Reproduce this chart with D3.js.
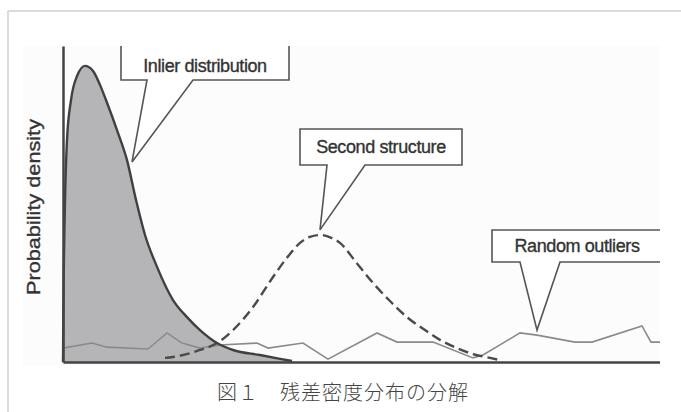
<!DOCTYPE html>
<html><head><meta charset="utf-8">
<script src="https://cdn.jsdelivr.net/npm/d3@7"></script>
<style>html,body{margin:0;padding:0;background:#fff;}svg{display:block;}</style>
</head><body>
<script>
// ---- data ----
const inlierX  = [0,0.008,0.034,0.067,0.134,0.235,0.369,0.503,0.620,0.720,0.921,1.072,1.223,1.374,1.575,1.843,2.077,2.295,2.580,2.848,3.300,3.836];
const inlierY  = [0,0.196,0.513,0.703,0.829,0.905,0.937,0.921,0.877,0.829,0.725,0.639,0.513,0.402,0.301,0.196,0.142,0.101,0.060,0.038,0.022,0.003];
const secondX  = [1.709,1.843,2.295,2.580,2.848,3.183,3.518,3.802,3.970,4.137,4.322,4.506,4.640,4.908,5.193,5.477,5.762,6.064,6.315,6.600,6.868,7.152,7.320];
const secondY  = [0.013,0.016,0.038,0.060,0.101,0.174,0.269,0.342,0.377,0.396,0.402,0.392,0.377,0.316,0.250,0.193,0.142,0.101,0.070,0.044,0.025,0.013,0.006];
const outlierX = [0,0.486,0.737,1.424,1.742,1.993,2.295,2.630,3.250,3.434,4.020,4.439,5.260,5.595,6.198,6.868,7.035,7.655,7.940,8.576,8.861,9.698,9.849,10];
const outlierY = [0.044,0.060,0.047,0.041,0.092,0.060,0.044,0.054,0.060,0.044,0.060,0.009,0.092,0.063,0.063,0.013,0.022,0.092,0.085,0.063,0.063,0.114,0.063,0.063];
const labels   = ["Inlier distribution","Second structure","Random outliers"];
const tipX     = [1.156,4.305,7.940];
const tipY     = [0.633,0.418,0.101];
const yTitle   = "Probability density";
const caption  = "図１　残差密度分布の分解";

const W=681,H=412;
const svg=d3.select("body").append("svg").attr("width",W).attr("height",H);

// outer frame
svg.append("line").attr("x1",8).attr("y1",11).attr("x2",W).attr("y2",11).attr("stroke","#cfcfcf").attr("stroke-width",1.5);
svg.append("line").attr("x1",8).attr("y1",11).attr("x2",8).attr("y2",H).attr("stroke","#cfcfcf").attr("stroke-width",1.5);

const L=63,R=660,T=46,B=362;
const x=d3.scaleLinear().domain([0,10]).range([L,R]);
const y=d3.scaleLinear().domain([0,1]).range([B,T]);

// figure image area
svg.append("defs").append("clipPath").attr("id","clip").append("rect").attr("x",23).attr("y",T).attr("width",R-23).attr("height",H-T);
svg.append("rect").attr("x",23).attr("y",T).attr("width",R-23).attr("height",320).attr("fill","#fcfcfc");
const g=svg.append("g").attr("clip-path","url(#clip)");

const inlier=inlierX.map((v,i)=>[v,inlierY[i]]);
const second=secondX.map((v,i)=>[v,secondY[i]]);
const outl=outlierX.map((v,i)=>[v,outlierY[i]]);

g.append("path").datum(inlier)
 .attr("d",d3.area().x(d=>x(d[0])).y0(y(0)).y1(d=>y(d[1])).curve(d3.curveMonotoneX))
 .attr("fill","#b5b5b7");
g.append("path").datum(outl)
 .attr("d",d3.line().x(d=>x(d[0])).y(d=>y(d[1])))
 .attr("fill","none").attr("stroke","#8a8a8a").attr("stroke-width",1.6);
g.append("path").datum(second)
 .attr("d",d3.line().x(d=>x(d[0])).y(d=>y(d[1])).curve(d3.curveMonotoneX))
 .attr("fill","none").attr("stroke","#4a4a4a").attr("stroke-width",2.4).attr("stroke-dasharray","10,5");
g.append("path").datum(inlier)
 .attr("d",d3.line().x(d=>x(d[0])).y(d=>y(d[1])).curve(d3.curveMonotoneX))
 .attr("fill","none").attr("stroke","#404040").attr("stroke-width",2.4);

// axes (no ticks)
g.append("g").attr("transform",`translate(0,${B})`)
 .call(d3.axisBottom(x).tickValues([]).tickSizeOuter(0))
 .call(s=>s.select(".domain").attr("stroke","#444").attr("stroke-width",2.5));
g.append("g").attr("transform",`translate(${L},0)`)
 .call(d3.axisLeft(y).tickValues([]).tickSizeOuter(0))
 .call(s=>s.select(".domain").attr("stroke","#444").attr("stroke-width",2.5));

// callouts: box layout [left, top, right, bottom, baseLeft, baseRight]
const boxes=[[121,44,289,80,147,193],[300,129,462,165,327,365],[492,230,662,262,520,560]];
labels.forEach((t,i)=>{
  const [l,tp,r,b,bl,br]=boxes[i];
  const tx=x(tipX[i]),ty=y(tipY[i]);
  const p=d3.path();
  p.moveTo(l,tp);p.lineTo(r,tp);p.lineTo(r,b);p.lineTo(br,b);p.lineTo(tx,ty);p.lineTo(bl,b);p.lineTo(l,b);p.closePath();
  g.append("path").attr("d",p.toString()).attr("fill","#fff").attr("stroke","#555").attr("stroke-width",1.6).attr("stroke-linejoin","miter");
  g.append("text").attr("x",(l+r)/2).attr("y",(tp+b)/2+(i===0?4:0)).attr("dy","0.35em")
   .attr("text-anchor","middle").attr("font-family","Liberation Sans, Arial, sans-serif")
   .attr("font-size",18).attr("fill","#333").attr("stroke","#333").attr("stroke-width",0.35)
   .attr("letter-spacing",-0.4).text(t);
});

// y title
svg.append("text").attr("transform","translate(40,207) rotate(-90)")
 .attr("text-anchor","middle").attr("font-family","Liberation Sans, Arial, sans-serif")
 .attr("font-size",19).attr("fill","#333").attr("stroke","#333").attr("stroke-width",0.35)
 .attr("textLength",176).attr("lengthAdjust","spacingAndGlyphs").text(yTitle);

// caption
svg.append("text").attr("x",217).attr("y",393).attr("dy","0.35em")
 .attr("font-family","Noto Sans CJK JP, sans-serif").attr("font-weight",300)
 .attr("font-size",20).attr("letter-spacing",1).attr("fill","#444").text(caption);
</script>
</body></html>
